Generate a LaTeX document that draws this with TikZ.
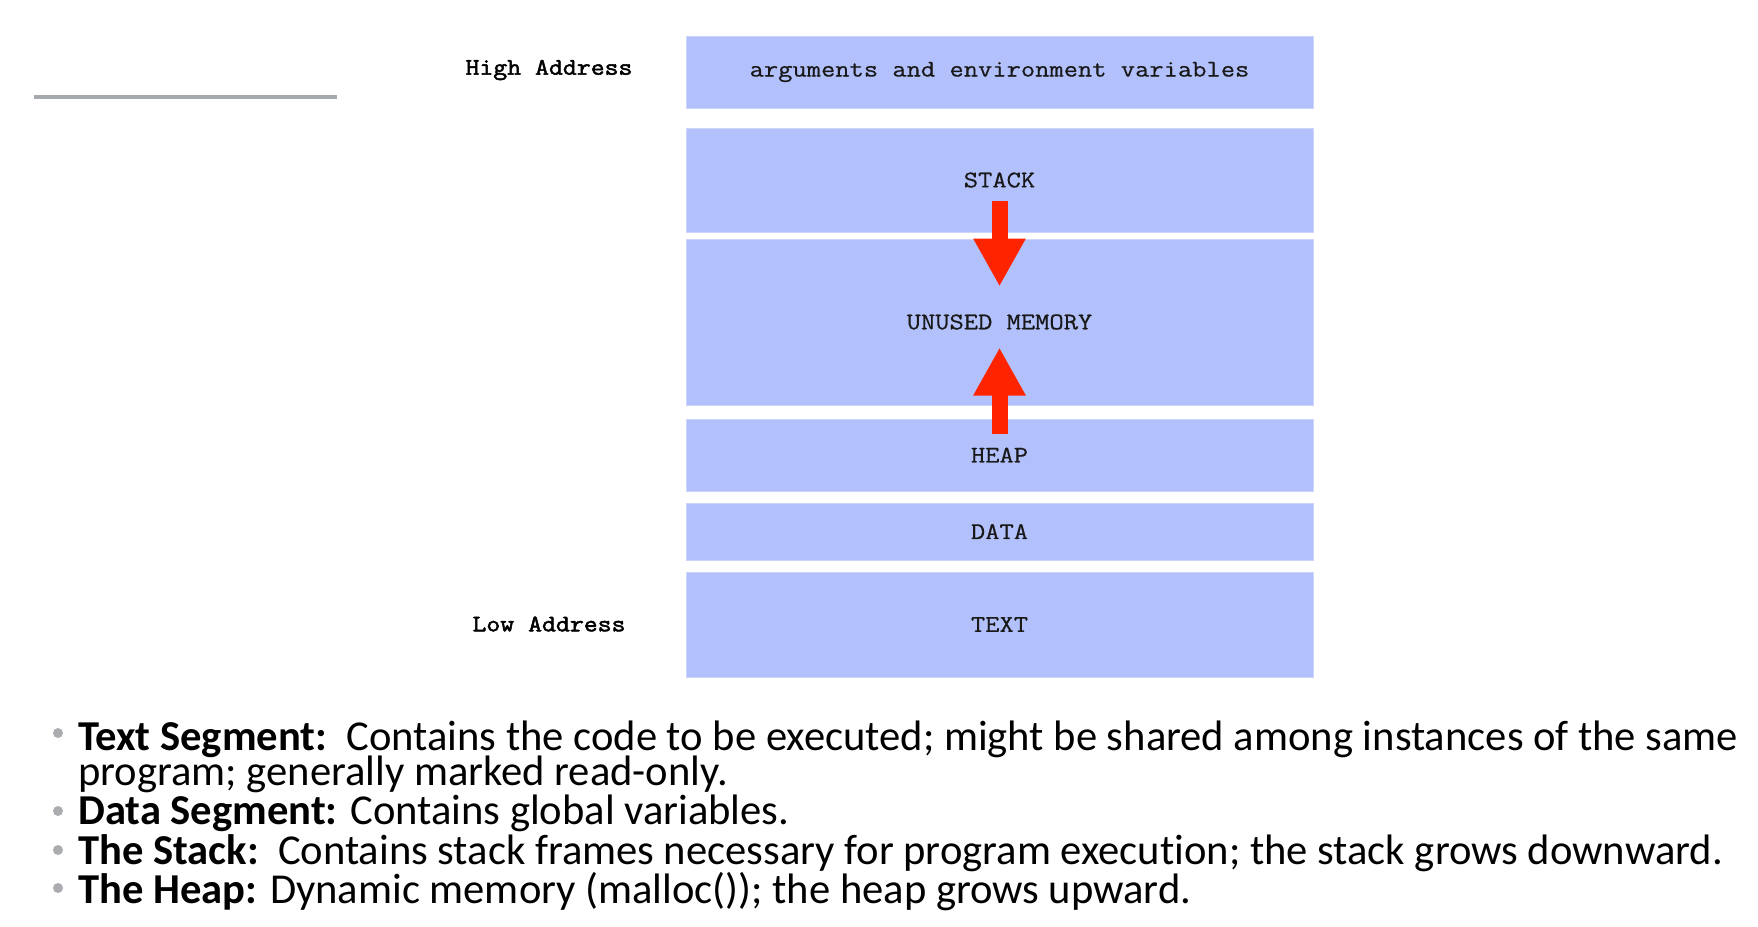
\documentclass[tikz,border=0pt]{standalone}
\usepackage{fontspec}
\setmainfont[Ligatures=NoCommon]{Carlito}
\newfontfamily\monofont[FakeStretch=1.16,FakeBold=0.6]{Latin Modern Mono}
\newfontfamily\monoboldfont[FakeStretch=1.14,FakeBold=2.2]{Latin Modern Mono}
\usetikzlibrary{arrows.meta,calc}
\definecolor{segfill}{RGB}{178,192,252}
\definecolor{segedge}{RGB}{205,214,250}
\definecolor{growred}{RGB}{255,36,0}
\definecolor{rulegray}{RGB}{166,170,175}
\definecolor{bulletgray}{RGB}{170,172,176}
\begin{document}
\begin{tikzpicture}[x=1pt,y=-1pt,
  seg/.style={rectangle, fill=segfill, draw=segedge, line width=1pt,
    minimum width=627pt, inner sep=0pt, text=black!90,
    font=\monofont\fontsize{23.9}{28}\selectfont},
  addr/.style={inner sep=0pt, font=\monoboldfont\fontsize{23.7}{28}\selectfont},
  growarrow/.style={draw=growred, line width=16pt, line cap=butt,
    -{Triangle[width=49pt,length=48pt]}},
  listline/.style={anchor=base west, inner sep=0pt, font=\fontsize{42.6}{44}\selectfont},
  listdot/.style={circle, fill=bulletgray, inner sep=0pt, minimum size=10pt}]
\useasboundingbox (0,0) rectangle (1758,926);

% rule at the top left
\draw[rulegray, line width=4pt] (34,97) -- (337,97);

% address labels
\node[addr] (high) at (549,70) {High Address};
\node[addr] (low)  at (549,624) {Low Address};

% memory segments, high address at the top
\node[seg, minimum height=72pt]  (args)   at (999.5,72)    {arguments and environment variables};
\node[seg, minimum height=104pt] (stack)  at (999.5,180)   {STACK};
\node[seg, minimum height=166pt] (unused) at (999.5,322)   {UNUSED MEMORY};
\node[seg, minimum height=72pt]  (heap)   at (999.5,455)   {HEAP};
\node[seg, minimum height=57pt]  (data)   at (999.5,531.5) {DATA};
\node[seg, minimum height=105pt] (text)   at (999.5,624.5) {TEXT};

% growth directions of stack and heap
\draw[growarrow] ($(stack.south)+(0,-32)$) -- ($(unused.north)+(0,48)$);
\draw[growarrow] ($(heap.north)+(0,15)$) -- ($(unused.south)+(0,-58)$);

% explanation list
\node[listline] (t1)  at (78,750) {\textbf{Text Segment:}\ \ Contains the code to be executed; might be shared among instances of the same};
\node[listline] (t1b) at (78,785) {program; generally marked read-only.};
\node[listline] (t2)  at (78,824) {\textbf{Data Segment:} Contains global variables.};
\node[listline] (t3)  at (78,864) {\textbf{The Stack:}\ \ Contains stack frames necessary for program execut\kern0pt ion; the stack grows downward.};
\node[listline] (t4)  at (78,903) {\textbf{The Heap:} Dynamic memory (malloc()); the heap grows upward.};
\node[listdot] (d1) at (58,733) {};
\node[listdot] (d2) at (58,811) {};
\node[listdot] (d3) at (58,850) {};
\node[listdot] (d4) at (58,888) {};
\end{tikzpicture}
\end{document}
